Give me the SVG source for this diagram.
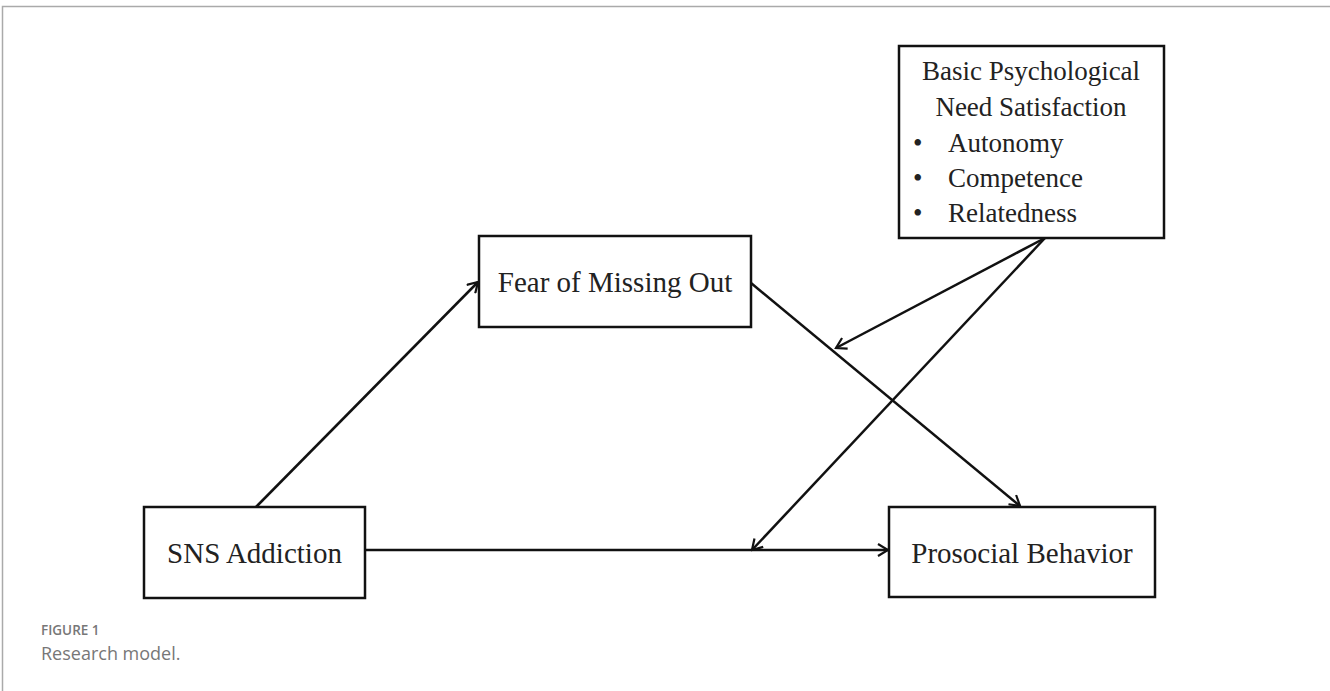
<svg xmlns="http://www.w3.org/2000/svg" width="1330" height="691" viewBox="0 0 1330 691">
<style>
.box{fill:#fff;stroke:#111;stroke-width:2.5}
.t{font-family:"Liberation Serif","Times New Roman",serif;font-size:29px;fill:#222}
.b{font-family:"Liberation Serif","Times New Roman",serif;font-size:27px;fill:#222}
.c{stroke:#111;stroke-width:2.5;fill:none}
.cap1{font-family:"Open Sans","Lato",sans-serif;font-size:13.5px;fill:#777;font-weight:600}
.cap2{font-family:"Open Sans","Lato",sans-serif;font-size:18px;fill:#777}
</style>
<defs>
<marker id="arr" viewBox="0 0 14 14" refX="12" refY="7" markerWidth="14" markerHeight="14" markerUnits="userSpaceOnUse" orient="auto">
<path d="M2,1 L12,7 L2,13" fill="none" stroke="#111" stroke-width="2.2"/>
</marker>
</defs>
<rect width="1330" height="691" fill="#fff"/>
<path d="M2.5,691 V6.5 H1330" fill="none" stroke="#aaa" stroke-width="1.5"/>
<g id="connectors">
<line class="c" x1="256" y1="507" x2="478" y2="282" marker-end="url(#arr)"/>
<line class="c" x1="751" y1="283" x2="1020" y2="506" marker-end="url(#arr)"/>
<line class="c" x1="365" y1="550" x2="888" y2="550" marker-end="url(#arr)"/>
<line class="c" x1="1045" y1="238" x2="836" y2="348" marker-end="url(#arr)"/>
<line class="c" x1="1045" y1="238" x2="752" y2="550" marker-end="url(#arr)"/>
</g>
<g id="basic">
<rect class="box" x="899" y="46" width="265" height="192"/>
<text class="b" x="1031" y="80" text-anchor="middle">Basic Psychological</text>
<text class="b" x="1031" y="116" text-anchor="middle">Need Satisfaction</text>
<text class="b" x="913" y="152">•</text>
<text class="b" x="948" y="152">Autonomy</text>
<text class="b" x="913" y="187">•</text>
<text class="b" x="948" y="187">Competence</text>
<text class="b" x="913" y="222">•</text>
<text class="b" x="948" y="222">Relatedness</text>
</g>
<g id="fomo">
<rect class="box" x="479" y="236" width="272" height="91"/>
<text class="t" x="615" y="292" text-anchor="middle">Fear of Missing Out</text>
</g>
<g id="sns">
<rect class="box" x="144" y="507" width="221" height="91"/>
<text class="t" x="254.5" y="563" text-anchor="middle">SNS Addiction</text>
</g>
<g id="prosocial">
<rect class="box" x="889" y="507" width="266" height="90"/>
<text class="t" x="1022" y="563" text-anchor="middle">Prosocial Behavior</text>
</g>
<text class="cap1" x="41" y="635">FIGURE 1</text>
<text class="cap2" x="41" y="660">Research model.</text>
</svg>
